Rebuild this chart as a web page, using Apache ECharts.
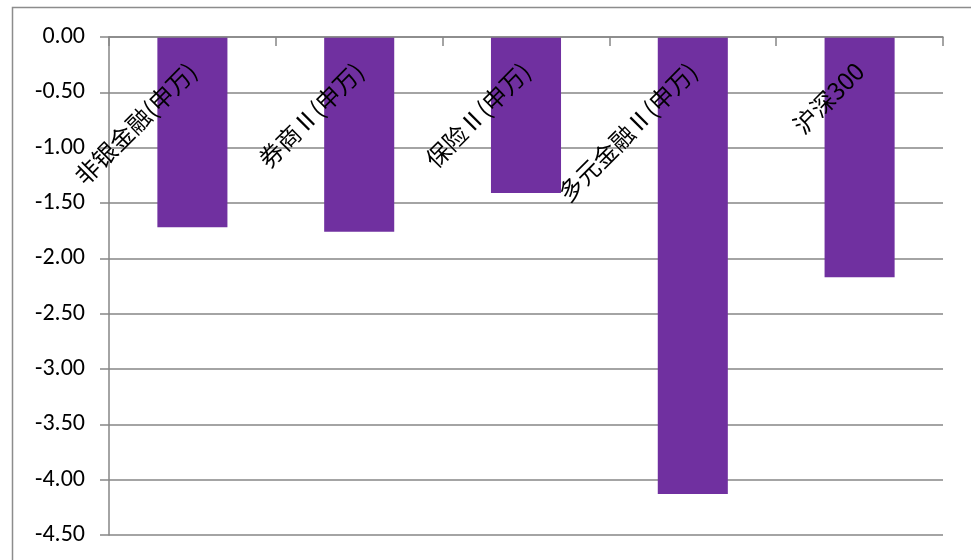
<!DOCTYPE html>
<html>
<head>
<meta charset="utf-8">
<script src="https://cdn.jsdelivr.net/npm/echarts@6/dist/echarts.min.js"></script>
<style>html,body{margin:0;padding:0;background:#fff;}#chart{width:971px;height:560px;}</style>
</head>
<body>
<div id="chart"></div>
<script>
var categories = ['非银金融(申万)', '券商Ⅱ(申万)', '保险Ⅱ(申万)', '多元金融Ⅱ(申万)', '沪深300'];
var values = [-1.72, -1.76, -1.41, -4.13, -2.17];
var yMin = -4.5, yMax = 0, yStep = 0.5;

var chart = echarts.init(document.getElementById('chart'));
chart.setOption({
  animation: false,
  backgroundColor: '#fff',
  graphic: [{
    type: 'rect',
    shape: { x: 12.5, y: 7.5, width: 1100, height: 700 },
    style: { fill: 'none', stroke: '#8c8c8c', lineWidth: 1.5 },
    silent: true,
    z: -1
  }],
  grid: { left: 109, right: 28, top: 37, bottom: 25, containLabel: false },
  xAxis: {
    type: 'category',
    position: 'top',
    data: categories,
    axisLine: { show: true, onZero: false, lineStyle: { color: '#868686', width: 1.5 } },
    axisTick: { show: true, inside: true, length: 9, lineStyle: { color: '#868686', width: 1.5 } },
    axisLabel: {
      inside: true,
      rotate: -45,
      margin: 30,
      interval: 0,
      color: '#000',
      fontSize: 24,
      fontFamily: '"Noto Sans CJK SC", sans-serif'
    },
    splitLine: { show: false },
    z: 5
  },
  yAxis: {
    type: 'value',
    min: yMin,
    max: yMax,
    interval: yStep,
    axisLine: { show: true, lineStyle: { color: '#868686', width: 1.5 } },
    axisTick: { show: true, length: 9, lineStyle: { color: '#868686', width: 1.5 } },
    axisLabel: {
      margin: 24,
      color: '#000',
      fontSize: 24,
      fontFamily: 'Carlito, Lato, sans-serif',
      formatter: function (v) { return v.toFixed(2); }
    },
    splitLine: { show: true, lineStyle: { color: '#868686', width: 1.5 } }
  },
  series: [{
    type: 'bar',
    data: values,
    barWidth: '42%',
    itemStyle: { color: '#7030A0' },
    z: 2
  }]
});
</script>
</body>
</html>
